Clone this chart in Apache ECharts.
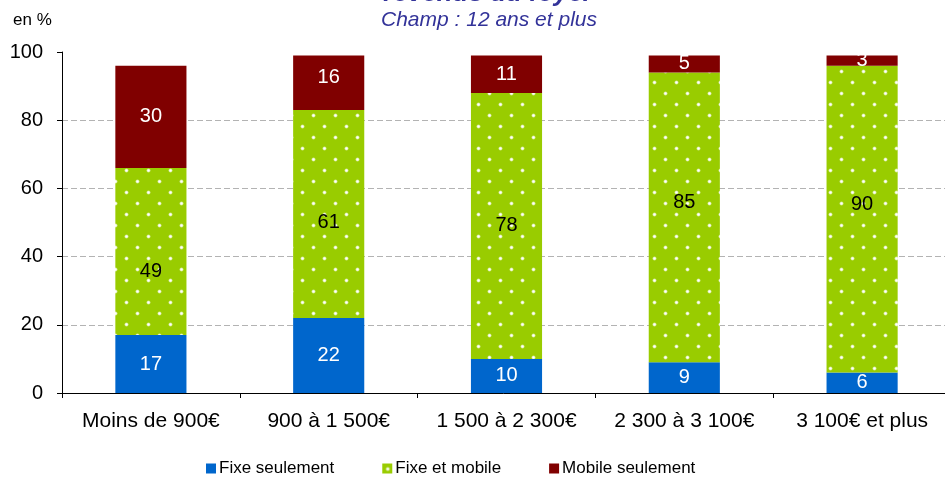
<!DOCTYPE html>
<html><head><meta charset="utf-8">
<script src="https://cdn.jsdelivr.net/npm/echarts@6/dist/echarts.min.js"></script>
<style>html,body{margin:0;padding:0;background:#fff}#c{width:945px;height:478px}</style>
</head><body><div id="c"></div>
<script>
const categories = ['Moins de 900€', '900 à 1 500€', '1 500 à 2 300€', '2 300 à 3 100€', '3 100€ et plus'];
const fixeSeulement = [17, 22, 10, 9, 6];
const fixeEtMobile = [49, 61, 78, 85, 90];
const mobileSeulement = [30, 16, 11, 5, 3];
const yTicks = [0, 20, 40, 60, 80, 100];

// label vertical nudges (px), styling only
const greenLabelDy = [20, 9, 0, -15, -15];
const redLabelDy = [0, -5, 0, 0, 0];

function makePattern() {
  const c = document.createElement('canvas');
  c.width = 22; c.height = 22;
  const g = c.getContext('2d');
  g.fillStyle = '#99CC00';
  g.fillRect(0, 0, 22, 22);
  [[5.5, 5.5], [16.5, 16.5]].forEach(([x, y]) => {
    g.fillStyle = 'rgba(255,255,255,0.55)';
    g.beginPath(); g.arc(x, y, 2.0, 0, Math.PI * 2); g.fill();
    g.fillStyle = 'rgba(255,255,255,1)';
    g.beginPath(); g.arc(x, y, 1.2, 0, Math.PI * 2); g.fill();
  });
  return c;
}
const greenPattern = { image: makePattern(), repeat: 'repeat' };
const FONT = 'Liberation Sans, Arial, sans-serif';

function withDy(values, dys) {
  return values.map((v, i) => dys[i] ? { value: v, label: { offset: [0, dys[i]] } } : v);
}

const chart = echarts.init(document.getElementById('c'), null, { renderer: 'canvas' });
chart.setOption({
  animation: false,
  textStyle: { fontFamily: FONT },
  graphic: [
    { type: 'text', style: { text: 'revenus du foyer', font: 'italic bold 26px ' + FONT, fill: '#333399', x: 488, y: 7, textAlign: 'center', textVerticalAlign: 'bottom' } },
    { type: 'text', style: { text: 'Champ : 12 ans et plus', font: 'italic 21px ' + FONT, fill: '#333399', x: 489, y: 10, textAlign: 'center' } },
    { type: 'text', style: { text: 'en %', font: '17px ' + FONT, fill: '#000', x: 13, y: 12 } }
  ],
  legend: {
    top: 455, left: 201, itemWidth: 10, itemHeight: 10, itemGap: 48,
    icon: 'rect',
    textStyle: { fontSize: 17, color: '#000', fontFamily: FONT, padding: [0, 0, 0, -2] },
    data: ['Fixe seulement', 'Fixe et mobile', 'Mobile seulement']
  },
  grid: { left: 62, width: 889, top: 52, bottom: 85, containLabel: false, outerBoundsMode: 'none' },
  xAxis: {
    type: 'category', data: categories,
    axisLine: { lineStyle: { color: '#000', width: 1 } },
    axisTick: { show: true, length: 5, lineStyle: { color: '#000' } },
    axisLabel: { fontSize: 21, color: '#000', margin: 18, fontFamily: FONT, interval: 0, hideOverlap: false }
  },
  yAxis: {
    type: 'value', min: 0, max: 100, interval: 20,
    axisLine: { show: true, lineStyle: { color: '#000', width: 1 } },
    axisTick: { show: true, length: 5, lineStyle: { color: '#000' } },
    axisLabel: { fontSize: 20, color: '#000', margin: 19, fontFamily: FONT,
      formatter: v => yTicks.includes(v) ? String(v) : '' },
    splitLine: { show: true, showMaxLine: false, showMinLine: false, lineStyle: { color: '#b3b3b3', type: [6, 3], width: 1 } }
  },
  series: [
    { name: 'Fixe seulement', type: 'bar', stack: 's', data: fixeSeulement, barWidth: '40%',
      itemStyle: { color: '#0066CC' },
      label: { show: true, position: 'inside', color: '#fff', fontSize: 20, fontFamily: FONT } },
    { name: 'Fixe et mobile', type: 'bar', stack: 's', data: withDy(fixeEtMobile, greenLabelDy), barWidth: '40%',
      itemStyle: { color: greenPattern },
      label: { show: true, position: 'inside', color: '#000', fontSize: 20, fontFamily: FONT } },
    { name: 'Mobile seulement', type: 'bar', stack: 's', data: withDy(mobileSeulement, redLabelDy), barWidth: '40%',
      itemStyle: { color: '#800000' },
      label: { show: true, position: 'inside', color: '#fff', fontSize: 20, fontFamily: FONT } }
  ]
});
</script></body></html>
